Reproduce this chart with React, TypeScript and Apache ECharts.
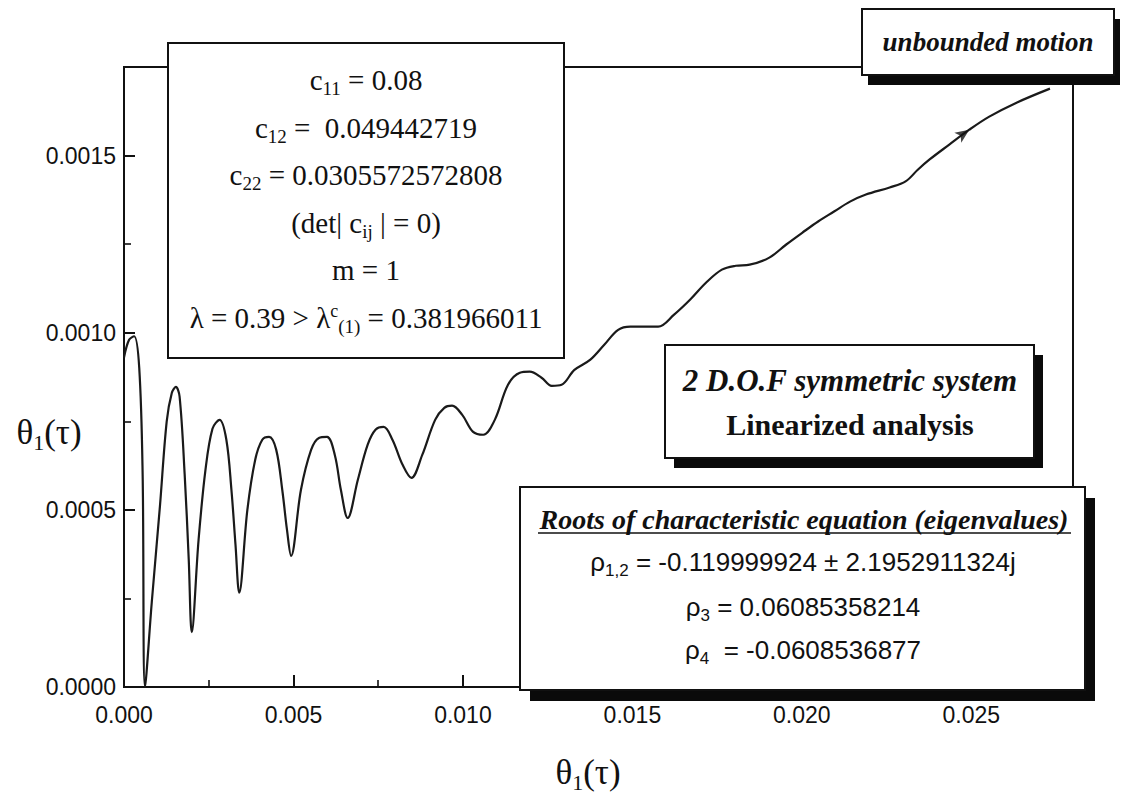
import React, { useEffect, useRef } from 'react';
import * as echarts from 'echarts';

// Tick settings
const xTickStep = 0.005;
const yTickStep = 0.0005;
const yMinorStep = 0.00025;
const xMax = 0.028;
const yMax = 0.00175;

// Trajectory θ1(τ)
const thetaX = [
  0, 0.00015, 0.0003, 0.00045, 0.00055, 0.00062,
  0.00082, 0.00106, 0.00126, 0.00141, 0.00153, 0.00164, 0.00179, 0.00191, 0.0020,
  0.0022, 0.0024, 0.00261, 0.00282, 0.00302, 0.00317, 0.00329, 0.0034,
  0.00364, 0.00387, 0.00408, 0.00428, 0.00449, 0.00467, 0.00481, 0.00493,
  0.00522, 0.00552, 0.00575, 0.00599, 0.00622, 0.0064, 0.0066,
  0.0069, 0.00719, 0.00742, 0.00766, 0.00792, 0.00822, 0.00848,
  0.0088, 0.00918, 0.00945, 0.00968, 0.00998, 0.0103, 0.0106,
  0.01094, 0.01133, 0.01168, 0.01197, 0.01232, 0.01262, 0.01291,
  0.01329, 0.01376, 0.01417, 0.01458, 0.01494, 0.01529, 0.01576, 0.01623, 0.0167,
  0.01717, 0.01764, 0.01805, 0.01846, 0.01904, 0.01954, 0.02001, 0.02048, 0.02095,
  0.02142, 0.02189, 0.02259, 0.02306, 0.02342, 0.02377, 0.02435, 0.02494, 0.02553,
  0.02635, 0.02732,
];
const thetaY = [
  0.00093, 0.00098, 0.00099, 0.0009, 0.0006, 0.0,
  0.00024, 0.00051, 0.00075, 0.00083, 0.000847, 0.00082, 0.0006, 0.00036, 0.000155,
  0.000415, 0.00061, 0.000729, 0.000754, 0.000698, 0.000556, 0.000401, 0.000266,
  0.0005, 0.000641, 0.000698, 0.000706, 0.00067, 0.000556, 0.000443, 0.00037,
  0.000556, 0.000669, 0.000703, 0.000706, 0.000655, 0.000556, 0.000477,
  0.000585, 0.000684, 0.000726, 0.000734, 0.000698, 0.000627, 0.00059,
  0.000655, 0.000754, 0.000788, 0.000794, 0.000768, 0.00072, 0.000712,
  0.000754, 0.000853, 0.000887, 0.00089, 0.000873, 0.00085, 0.000853,
  0.000895, 0.000924, 0.000966, 0.001008, 0.001017, 0.001017, 0.001017, 0.001051, 0.001093,
  0.001141, 0.001178, 0.001189, 0.001192, 0.001212, 0.001249, 0.001282, 0.001314, 0.001342,
  0.00137, 0.00139, 0.00141, 0.001427, 0.00146, 0.001489, 0.001531, 0.001573, 0.00161,
  0.00165, 0.001689,
];
// Direction arrow on the curve
const arrowPoint = [0.02494, 0.001573];

// Annotation texts
const paramLines = [
  'c{b|11} = 0.08',
  'c{b|12} =  0.049442719',
  'c{b|22} = 0.0305572572808',
  '(det| c{b|ij} | = 0)',
  'm = 1',
  'λ = 0.39 > λ{p|c}{b|(1)} = 0.381966011',
];
const unboundedLabel = 'unbounded motion';
const systemLines = ['2 D.O.F symmetric system', 'Linearized analysis'];
const rootsTitle = 'Roots of characteristic equation (eigenvalues)';
const rootLines = [
  'ρ{b|1,2} = -0.119999924 ± 2.1952911324j',
  'ρ{b|3} = 0.06085358214',
  'ρ{b|4}  = -0.0608536877',
];
const axisName = 'θ{b|1}(τ)';

const SERIF = "'Liberation Serif', 'DejaVu Serif', serif";
const SANS = "'Liberation Sans', 'DejaVu Sans', sans-serif";
const INK = '#111111';

function multipleLabel(v: number, step: number, digits: number) {
  const k = Math.round(v / step);
  return Math.abs(v - k * step) < step * 1e-6 ? v.toFixed(digits) : '';
}

function textEl(x: number, y: number, text: string, font: any, rich: any = {}, z = 52) {
  return {
    type: 'text',
    x,
    y,
    z,
    style: {
      text,
      fill: INK,
      align: 'center',
      verticalAlign: 'middle',
      textAlign: 'center',
      textVerticalAlign: 'middle',
      ...font,
      rich,
    },
  };
}

function box(x: number, y: number, w: number, h: number, shadow: [number, number] | null) {
  const els: any[] = [];
  if (shadow) {
    els.push({
      type: 'rect',
      z: 49,
      shape: { x: x + shadow[0], y: y + shadow[1], width: w, height: h },
      style: { fill: '#0a0a0a' },
    });
  }
  els.push({
    type: 'rect',
    z: 50,
    shape: { x, y, width: w, height: h },
    style: { fill: '#ffffff', stroke: INK, lineWidth: 2 },
  });
  return els;
}

export default function App() {
  const ref = useRef<HTMLDivElement>(null);
  useEffect(() => {
    const chart = echarts.init(ref.current!, null, { renderer: 'svg' });

    const serifFont = { fontFamily: SERIF, fontSize: 29 };
    const serifRich = {
      b: { fontFamily: SERIF, fontSize: 19, fill: INK, padding: [16, 0, 0, 0] },
      p: { fontFamily: SERIF, fontSize: 18, fill: INK, padding: [0, 0, 14, 0] },
    };
    const sansFont = { fontFamily: SANS, fontSize: 26 };
    const sansRich = {
      b: { fontFamily: SANS, fontSize: 17, fill: INK, padding: [16, 0, 0, 0] },
    };
    const nameFont = { fontFamily: SERIF, fontSize: 35 };
    const nameRich = {
      b: { fontFamily: SERIF, fontSize: 22, fill: INK, padding: [20, 0, 0, 0] },
    };

    const paramY = [80, 128, 175, 223, 270, 318];
    const rootY = [562, 607, 650];

    const graphics: any[] = [
      ...box(168, 43, 396, 315, null),
      ...paramLines.map((t, i) => textEl(366, paramY[i], t, serifFont, serifRich)),
      ...box(862, 9, 252, 66, [6, 10]),
      textEl(988, 42, unboundedLabel, {
        fontFamily: SERIF, fontSize: 27, fontWeight: 'bold', fontStyle: 'italic',
      }),
      ...box(665, 345, 369, 113, [9, 10]),
      textEl(850, 380, systemLines[0], {
        fontFamily: SERIF, fontSize: 31, fontWeight: 'bold', fontStyle: 'italic',
      }),
      textEl(850, 424, systemLines[1], {
        fontFamily: SERIF, fontSize: 30, fontWeight: 'bold',
      }),
      ...box(520, 487, 565, 203, [10, 11]),
      textEl(804, 519, rootsTitle, {
        fontFamily: SERIF, fontSize: 28, fontWeight: 'bold', fontStyle: 'italic',
      }),
      {
        type: 'line',
        z: 52,
        shape: { x1: 538, y1: 533, x2: 1071, y2: 533 },
        style: { stroke: INK, lineWidth: 1.6 },
      },
      ...rootLines.map((t, i) => textEl(803, rootY[i], t, sansFont, sansRich)),
      textEl(49, 432, axisName, nameFont, nameRich, 10),
      textEl(588, 772, axisName, nameFont, nameRich, 10),
    ];

    const yLabel = {
      color: INK,
      fontFamily: SANS,
      fontSize: 23,
      margin: 8,
      formatter: (v: number) => multipleLabel(v, yTickStep, 4),
    };

    const option: any = {
      animation: false,
      backgroundColor: '#ffffff',
      grid: {
        left: 124,
        top: 67,
        right: 52,
        bottom: 107,
        show: true,
        borderColor: INK,
        borderWidth: 2,
        backgroundColor: 'transparent',
      },
      xAxis: {
        type: 'value',
        min: 0,
        max: xMax,
        interval: xTickStep,
        axisLine: { show: true, lineStyle: { color: INK, width: 2 } },
        axisTick: { show: true, inside: true, length: 12, lineStyle: { color: INK, width: 2 } },
        minorTick: { show: true, splitNumber: 2, length: 7, lineStyle: { color: INK, width: 1.6 } },
        splitLine: { show: false },
        axisLabel: {
          color: INK,
          fontFamily: SANS,
          fontSize: 23,
          margin: 16,
          formatter: (v: number) => multipleLabel(v, xTickStep, 3),
        },
      },
      yAxis: [
        {
          type: 'value',
          position: 'left',
          min: 0,
          max: yMax,
          interval: yTickStep,
          axisLine: { show: true, lineStyle: { color: INK, width: 2 } },
          axisTick: { show: true, inside: true, length: 11, lineStyle: { color: INK, width: 2 } },
          splitLine: { show: false },
          axisLabel: yLabel,
          z: 3,
        },
        {
          type: 'value',
          position: 'left',
          offset: 0,
          min: 0,
          max: yMax,
          interval: yMinorStep,
          axisLine: { show: false },
          axisTick: { show: true, inside: true, length: 7, lineStyle: { color: INK, width: 1.6 } },
          splitLine: { show: false },
          axisLabel: { show: false },
          z: 2,
        },
      ],
      series: [
        {
          type: 'line',
          yAxisIndex: 0,
          data: thetaX.map((x, i) => [x, thetaY[i]]),
          smooth: 0.35,
          showSymbol: false,
          symbol: 'none',
          lineStyle: { color: '#1a1a1a', width: 2.2 },
          z: 3,
        },
        {
          type: 'scatter',
          yAxisIndex: 0,
          data: [arrowPoint],
          symbol: 'arrow',
          symbolSize: [9, 14],
          symbolRotate: -55,
          itemStyle: { color: '#111' },
          z: 4,
        },
      ],
      graphic: { elements: graphics },
    };

    chart.setOption(option);
    return () => chart.dispose();
  }, []);

  return (
    <div
      ref={ref}
      style={{ position: 'fixed', left: 0, top: 0, width: 1125, height: 794, background: '#fff' }}
    />
  );
}
